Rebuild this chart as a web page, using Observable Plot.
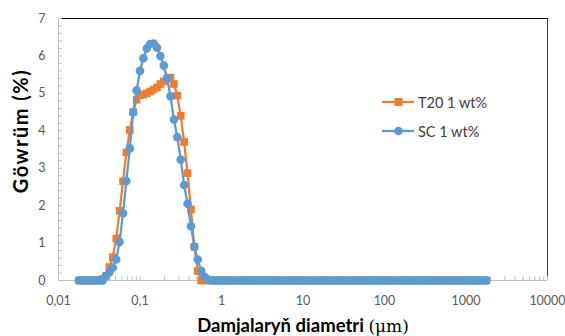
<!DOCTYPE html>
<html><head><meta charset="utf-8">
<script src="https://cdn.jsdelivr.net/npm/d3@7"></script>
<script src="https://cdn.jsdelivr.net/npm/@observablehq/plot@0.6"></script>
<style>
body{margin:0;background:#fff;}
#wrap{position:relative;width:565px;height:336px;font-family:Lato,"Open Sans",sans-serif;overflow:hidden;}
#wrap svg.plot{position:absolute;left:0;top:0;}
.leg{position:absolute;display:flex;align-items:center;font-size:14.5px;color:#404040;white-space:nowrap;}
.leg svg{display:block;margin-right:3px;}
.ytitle{position:absolute;left:20px;top:131px;transform:translate(-50%,-50%) rotate(-90deg);font-weight:bold;font-size:20px;letter-spacing:1.5px;color:#000;white-space:nowrap;}
.xtitle{position:absolute;left:303px;top:325px;transform:translate(-50%,-50%);font-weight:bold;font-size:18.5px;color:#000;white-space:nowrap;}
.xtitle .u{font-family:"DejaVu Serif","Liberation Serif",serif;font-weight:normal;font-size:17px;}
</style></head><body><div id="wrap"></div>
<script>
// Droplet diameter classes (µm)
const sizes = [
0.0178,0.0196,0.0215,0.0237,0.0261,0.0287,0.0316,0.0348,0.0383,0.0422,0.0464,0.0511,0.0562,0.0619,0.0681,0.0750,0.0825,0.0909,
0.100,0.110,0.121,0.133,0.147,0.162,0.178,0.196,0.215,0.237,0.261,0.287,0.316,0.348,0.383,0.422,0.464,0.511,0.562,0.619,0.681,0.750,0.825,0.909,
1.00,1.10,1.21,1.33,1.47,1.62,1.78,1.96,2.15,2.37,2.61,2.87,3.16,3.48,3.83,4.22,4.64,5.11,5.62,6.19,6.81,7.50,8.25,9.09,
10.0,11.0,12.1,13.3,14.7,16.2,17.8,19.6,21.5,23.7,26.1,28.7,31.6,34.8,38.3,42.2,46.4,51.1,56.2,61.9,68.1,75.0,82.5,90.9,
100,110,121,133,147,162,178,196,215,237,261,287,316,348,383,422,464,511,562,619,681,750,825,909,
1000,1101,1212,1334,1468,1616,1778
];
// T20 1 wt% distribution (%)
const t20 = [
0,0,0,0,0,0,0,
0.04,0.12,0.36,0.62,1.12,1.86,2.65,3.42,4.02,4.50,
4.83,4.95,4.97,5.00,5.05,5.10,5.16,5.25,5.32,5.40,
5.42,5.25,4.94,4.40,3.70,2.87,1.90,0.90,0.25,
0,0,0,0,0,0,0,0,0,0,
0,0,0,0,0,0,0,0,0,0,
0,0,0,0,0,0,0,0,0,0,
0,0,0,0,0,0,0,0,0,0,
0,0,0,0,0,0,0,0,0,0,
0,0,0,0,0,0,0,0,0,0,
0,0,0,0,0,0,0,0,0,0,
0,0,0,0,0,0,0,0,0,0,
0,0,0,0,0
];
// SC 1 wt% distribution (%)
const sc = [
0,0,0,0,0,0,0,0,
0.12,0.22,0.34,0.56,1.03,1.80,2.66,3.53,4.49,5.08,
5.60,5.94,6.20,6.32,6.33,6.22,6.00,5.74,5.40,4.92,
4.30,3.83,3.23,2.55,2.05,1.45,0.90,0.56,0.26,0.10,
0.03,
0,0,0,0,0,0,0,0,0,0,
0,0,0,0,0,0,0,0,0,0,
0,0,0,0,0,0,0,0,0,0,
0,0,0,0,0,0,0,0,0,0,
0,0,0,0,0,0,0,0,0,0,
0,0,0,0,0,0,0,0,0,0,
0,0,0,0,0,0,0,0,0,0,
0,0,0,0,0,0,0,0,0,0,
0,0
];
const seriesNames = ["T20 1 wt%", "SC 1 wt%"];
const seriesColors = ["#ED7D31", "#5B9BD5"];
const xTicks = [0.01, 0.1, 1, 10, 100, 1000, 10000];
const xTickLabels = ["0,01", "0,1", "1", "10", "100", "1000", "10000"];
const yTicks = [0, 1, 2, 3, 4, 5, 6, 7];
const yTitle = "Göwrüm (%)";
const xTitleText = "Damjalaryň diametri ";
const xTitleUnit = "(μm)";

const rows = sizes.map((s, i) => ({s, t20: t20[i], sc: sc[i]}));
const minorX = d3.scaleLog().domain([0.01, 10000]).ticks();
const minorY = d3.range(0, 7.001, 0.2);

const plot = Plot.plot({
  width: 565, height: 336,
  marginLeft: 58, marginRight: 18, marginTop: 18, marginBottom: 56,
  style: {fontFamily: "Lato, sans-serif", fontSize: "12.5px", color: "#595959", background: "transparent"},
  x: {type: "log", domain: [0.01, 10000]},
  y: {domain: [0, 7]},
  marks: [
    Plot.ruleX([0.01], {stroke: "#bfbfbf"}),
    Plot.ruleY([0], {stroke: "#bfbfbf"}),
    Plot.ruleY([7], {stroke: "#000"}),
    Plot.ruleX([10000], {stroke: "#404040"}),
    Plot.axisX(minorX, {tickSize: -4, text: null, stroke: "#bfbfbf", label: null}),
    Plot.axisX(xTicks, {tickSize: 0, tickPadding: 16, tickFormat: d => xTickLabels[xTicks.indexOf(d)], label: null, fill: "#595959"}),
    Plot.axisY(minorY, {tickSize: -4, text: null, stroke: "#bfbfbf", label: null}),
    Plot.axisY(yTicks, {tickSize: 0, tickPadding: 13, label: null, fill: "#595959"}),
    Plot.line(rows, {x: "s", y: "t20", stroke: seriesColors[0], strokeWidth: 2.25}),
    Plot.dot(rows, {x: "s", y: "t20", symbol: "square", fill: seriesColors[0], r: 4.3}),
    Plot.line(rows, {x: "s", y: "sc", stroke: seriesColors[1], strokeWidth: 2.25}),
    Plot.dot(rows, {x: "s", y: "sc", fill: seriesColors[1], r: 4.3})
  ]
});
plot.classList.add("plot");
const wrap = document.getElementById("wrap");
wrap.appendChild(plot);

// Legend
const legTops = [93, 122];
seriesNames.forEach((name, i) => {
  const d = document.createElement("div");
  d.className = "leg";
  d.style.left = "381px";
  d.style.top = legTops[i] + "px";
  const marker = i === 0
    ? `<rect x="13.5" y="5" width="8" height="8" fill="${seriesColors[i]}"/>`
    : `<circle cx="17.5" cy="9" r="4.3" fill="${seriesColors[i]}"/>`;
  d.innerHTML = `<svg width="34" height="18"><line x1="1" x2="33" y1="9" y2="9" stroke="${seriesColors[i]}" stroke-width="2.25"/>${marker}</svg><span>${name}</span>`;
  wrap.appendChild(d);
});
// Axis titles
const yt = document.createElement("div");
yt.className = "ytitle"; yt.textContent = yTitle; wrap.appendChild(yt);
const xt = document.createElement("div");
xt.className = "xtitle";
xt.innerHTML = `${xTitleText}<span class="u">${xTitleUnit}</span>`;
wrap.appendChild(xt);
</script>
</body></html>
